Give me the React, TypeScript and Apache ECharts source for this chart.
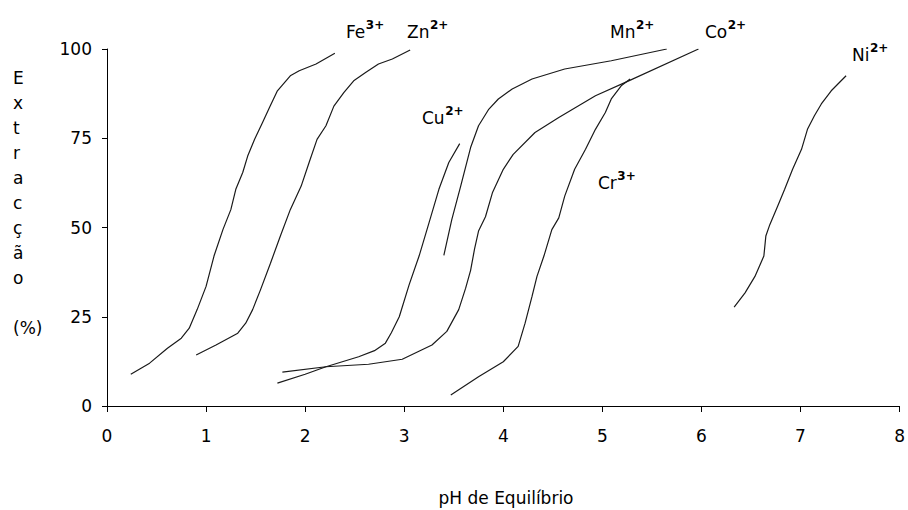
import React, { useEffect, useRef } from "react";
import * as echarts from "echarts";

// Extraction (%) versus equilibrium pH for each metal ion: [pH, % extracted]
const fe: number[][] = [
  [0.24, 8.9], [0.43, 12], [0.61, 16.2], [0.75, 19], [0.83, 21.8], [0.91, 27],
  [1.0, 33.5], [1.08, 42], [1.17, 49.4], [1.25, 55], [1.3, 60.7], [1.37, 65.4],
  [1.42, 70], [1.49, 74.7], [1.57, 79.4], [1.64, 83.6], [1.72, 88.3], [1.85, 92.5],
  [1.94, 93.9], [2.11, 95.8], [2.3, 98.8],
];
const zn: number[][] = [
  [0.9, 14.3], [1.1, 17.1], [1.32, 20.4], [1.4, 23.2], [1.47, 27], [1.55, 32.6],
  [1.65, 40], [1.75, 47.6], [1.85, 55], [1.96, 61.6], [2.04, 68.2], [2.12, 74.7],
  [2.21, 78.5], [2.29, 84], [2.39, 87.8], [2.49, 91.1], [2.61, 93.4], [2.74, 95.8],
  [2.88, 97.2], [3.06, 99.7],
];
const cu: number[][] = [
  [1.72, 6.4], [2.0, 8.9], [2.21, 11.0], [2.54, 13.8], [2.7, 15.5], [2.81, 17.6],
  [2.87, 20.5], [2.95, 25], [3.05, 34], [3.15, 42], [3.25, 51.3], [3.35, 60.7],
  [3.45, 68.2], [3.56, 73.5],
];
const co: number[][] = [
  [1.77, 9.5], [2.21, 11.0], [2.64, 11.7], [2.98, 13.1], [3.28, 17.1], [3.43, 20.9],
  [3.55, 27], [3.62, 33], [3.67, 38], [3.71, 44], [3.75, 49], [3.82, 53],
  [3.89, 59.7], [4.0, 66.3], [4.1, 70.5], [4.32, 76.6], [4.56, 80.8], [4.93, 86.9],
  [5.26, 91], [5.97, 100],
];
const mn: number[][] = [
  [3.4, 42.2], [3.48, 52.2], [3.57, 61.6], [3.67, 72.4], [3.75, 78.5], [3.85, 83],
  [3.95, 86], [4.09, 88.8], [4.29, 91.6], [4.62, 94.4], [5.09, 96.7], [5.65, 100],
];
const cr: number[][] = [
  [3.47, 3.1], [3.75, 8.2], [4.0, 12.4], [4.15, 16.7], [4.22, 23.2], [4.29, 30.7],
  [4.34, 36.3], [4.41, 42], [4.49, 49.4], [4.56, 52.7], [4.62, 58.8], [4.72, 66.3],
  [4.83, 71.9], [4.93, 77.5], [5.03, 82.2], [5.09, 86], [5.19, 89.7], [5.28, 91.6],
];
const ni: number[][] = [
  [6.33, 27.7], [6.44, 31.7], [6.54, 36.3], [6.63, 42], [6.65, 47.6], [6.69, 50.8],
  [6.77, 56], [6.84, 60.7], [6.92, 66.3], [7.01, 71.9], [7.07, 77.5], [7.14, 81.3],
  [7.21, 84.6], [7.31, 88.3], [7.46, 92.5],
];

const seriesNames = ["Fe", "Zn", "Cu", "Co", "Mn", "Cr", "Ni"];
const seriesData = [fe, zn, cu, co, mn, cr, ni];

// Ion labels: element symbol and charge
const ionSymbols = ["Fe", "Zn", "Mn", "Co", "Cu", "Cr", "Ni"];
const ionCharges = ["3+", "2+", "2+", "2+", "2+", "3+", "2+"];

const xTitle = "pH de Equilíbrio";
const yTitleLines = ["E", "x", "t", "r", "a", "c", "ç", "ã", "o", "", "(%)"];

// Pixel placement of the ion labels (left edge, vertical centre of the symbol)
const ionLabelPos = [
  [346, 32], [407, 32], [610, 32], [705, 32], [422, 118], [598, 183], [852, 55],
];

const FONT = "DejaVu Sans";
const MAIN_SIZE = 17;
const SUP_SIZE = 12;

function measure(text: string, size: number, weight = "normal"): number {
  const c = document.createElement("canvas").getContext("2d");
  if (!c) return text.length * size * 0.6;
  c.font = `${weight} ${size}px "${FONT}"`;
  return c.measureText(text).width;
}

export default function App() {
  const ref = useRef<HTMLDivElement>(null);

  useEffect(() => {
    if (!ref.current) return;
    const chart = echarts.init(ref.current, null, { renderer: "svg" });

    const labelGraphics: any[] = [];
    ionSymbols.forEach((sym, i) => {
      const [x, y] = ionLabelPos[i];
      const w = measure(sym, MAIN_SIZE);
      labelGraphics.push({
        type: "text",
        x,
        y,
        style: {
          text: sym,
          fontFamily: FONT,
          fontSize: MAIN_SIZE,
          fill: "#000",
          textAlign: "left",
          textVerticalAlign: "middle",
        },
      });
      labelGraphics.push({
        type: "text",
        x: x + w + 0.5,
        y: y - 7,
        style: {
          text: ionCharges[i],
          fontFamily: FONT,
          fontSize: SUP_SIZE,
          fontWeight: "bold",
          fill: "#000",
          textAlign: "left",
          textVerticalAlign: "middle",
        },
      });
    });

    chart.setOption({
      animation: false,
      backgroundColor: "#fff",
      grid: { left: 107, right: 6, top: 49, bottom: 104, containLabel: false },
      xAxis: {
        type: "value",
        min: 0,
        max: 8,
        interval: 1,
        axisLine: { show: true, onZero: false, lineStyle: { color: "#000", width: 1 } },
        axisTick: { show: true, inside: false, length: 6, lineStyle: { color: "#000" } },
        splitLine: { show: false },
        axisLabel: { color: "#000", fontSize: MAIN_SIZE, fontFamily: FONT, margin: 21 },
      },
      yAxis: {
        type: "value",
        min: 0,
        max: 100,
        interval: 25,
        axisLine: { show: true, lineStyle: { color: "#000", width: 1 } },
        axisTick: { show: true, inside: false, length: 5, lineStyle: { color: "#000" } },
        splitLine: { show: false },
        axisLabel: { color: "#000", fontSize: MAIN_SIZE, fontFamily: FONT, margin: 15 },
      },
      series: seriesData.map((d, i) => ({
        name: seriesNames[i],
        type: "line",
        data: d,
        showSymbol: false,
        symbol: "none",
        smooth: false,
        lineStyle: { color: "#1a1a1a", width: 1.2 },
      })),
      graphic: [
        {
          type: "text",
          x: 13,
          y: 65,
          style: {
            text: yTitleLines.join("\n"),
            fontFamily: FONT,
            fontSize: MAIN_SIZE,
            lineHeight: 25,
            fill: "#000",
            textAlign: "left",
            textVerticalAlign: "top",
          },
        },
        {
          type: "text",
          x: 506,
          y: 498,
          style: {
            text: xTitle,
            fontFamily: FONT,
            fontSize: MAIN_SIZE,
            fill: "#000",
            textAlign: "center",
            textVerticalAlign: "middle",
          },
        },
        ...labelGraphics,
      ],
    });

    return () => chart.dispose();
  }, []);

  return (
    <div
      ref={ref}
      style={{ position: "fixed", left: 0, top: 0, width: 908, height: 510, background: "#fff" }}
    />
  );
}
